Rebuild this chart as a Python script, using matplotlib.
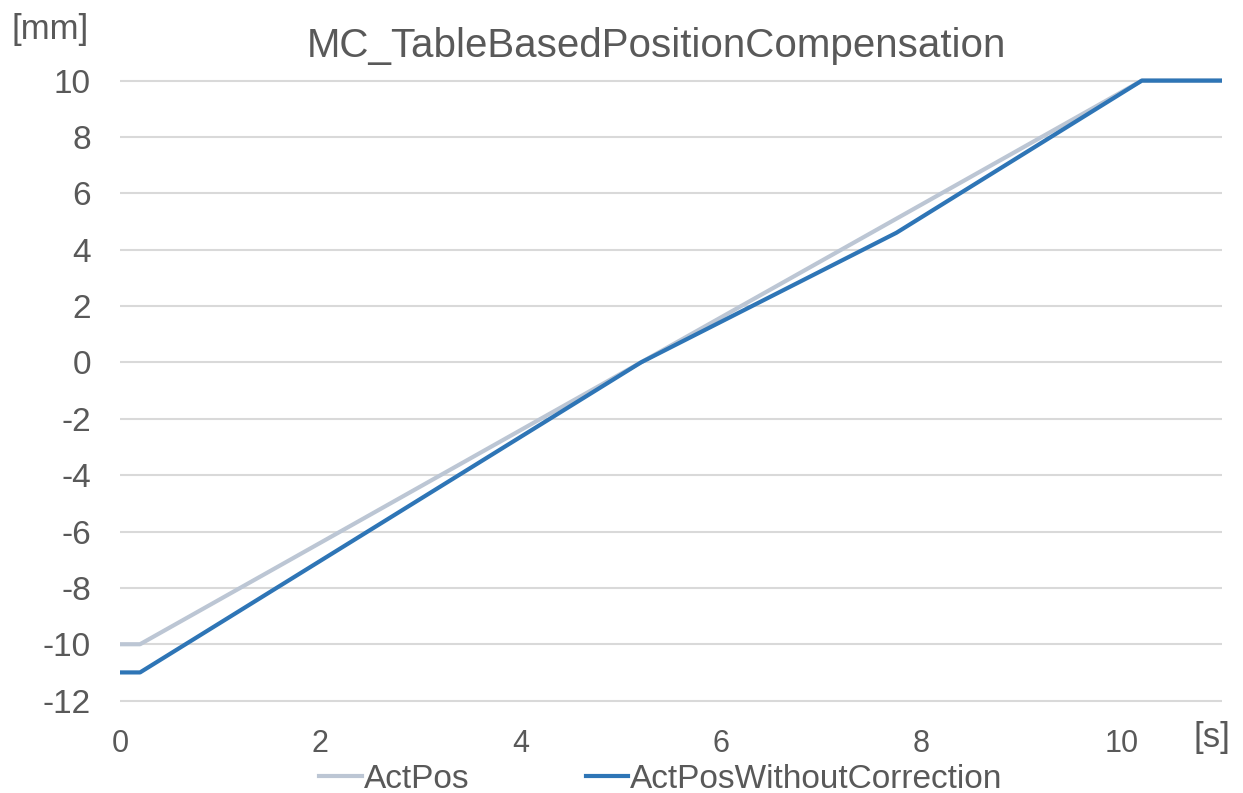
import matplotlib
matplotlib.use("Agg")
import matplotlib.pyplot as plt

# Time axis breakpoints [s] and positions [mm]
act_pos_t = [0.0, 0.2, 10.2, 11.0]
act_pos = [-10.0, -10.0, 10.0, 10.0]

raw_pos_t = [0.0, 0.2, 5.2, 7.75, 10.2, 11.0]
raw_pos = [-11.0, -11.0, 0.0, 4.6, 10.0, 10.0]

y_ticks = [-12, -10, -8, -6, -4, -2, 0, 2, 4, 6, 8, 10]
x_ticks = [0, 2, 4, 6, 8, 10]
series_names = ["ActPos", "ActPosWithoutCorrection"]
title = "MC_TableBasedPositionCompensation"

plt.rcParams["font.family"] = ["Liberation Sans", "DejaVu Sans"]
plt.rcParams["axes.unicode_minus"] = False

TEXT = "#595959"
GRID = "#d9d9d9"
C_ACT = "#bcc6d4"
C_RAW = "#2e75b6"

fig = plt.figure(figsize=(12.43, 7.93), dpi=100)
W, H = 1243, 793
x0, x1 = 120, 1222
y_top, y_bot = 66.5, 714.7
ax = fig.add_axes([x0 / W, 1 - y_bot / H, (x1 - x0) / W, (y_bot - y_top) / H])

ax.plot(act_pos_t, act_pos, color=C_ACT, lw=3.0, label=series_names[0],
        solid_joinstyle="round", zorder=3)
ax.plot(raw_pos_t, raw_pos, color=C_RAW, lw=3.0, label=series_names[1],
        solid_joinstyle="round", zorder=4)

ax.set_xlim(0, 11)
ax.set_ylim(-12.5, 10.5)
ax.set_yticks(y_ticks)
ax.set_xticks(x_ticks)
ax.yaxis.grid(True, color=GRID, lw=1.5)
ax.set_axisbelow(True)
for s in ax.spines.values():
    s.set_visible(False)
ax.tick_params(axis="both", length=0, labelcolor=TEXT)
ax.tick_params(axis="y", pad=21, labelsize=24)
ax.tick_params(axis="x", pad=10, labelsize=22)

fig.text(656 / W, 1 - 46 / H, title, ha="center", va="center",
         fontsize=29, color=TEXT)
fig.text(50 / W, 1 - 29 / H, "[mm]", ha="center", va="center",
         fontsize=25, color=TEXT)
fig.text(1212 / W, 1 - 738 / H, "[s]", ha="center", va="center",
         fontsize=25, color=TEXT)

fig.legend(loc="center", bbox_to_anchor=(661 / W, 1 - 779 / H), ncol=2,
           frameon=False, fontsize=24, labelcolor=TEXT, handlelength=1.27,
           handletextpad=0.06, columnspacing=3.5, borderpad=0, borderaxespad=0)

fig.savefig("out.png", dpi=100, facecolor="white")
